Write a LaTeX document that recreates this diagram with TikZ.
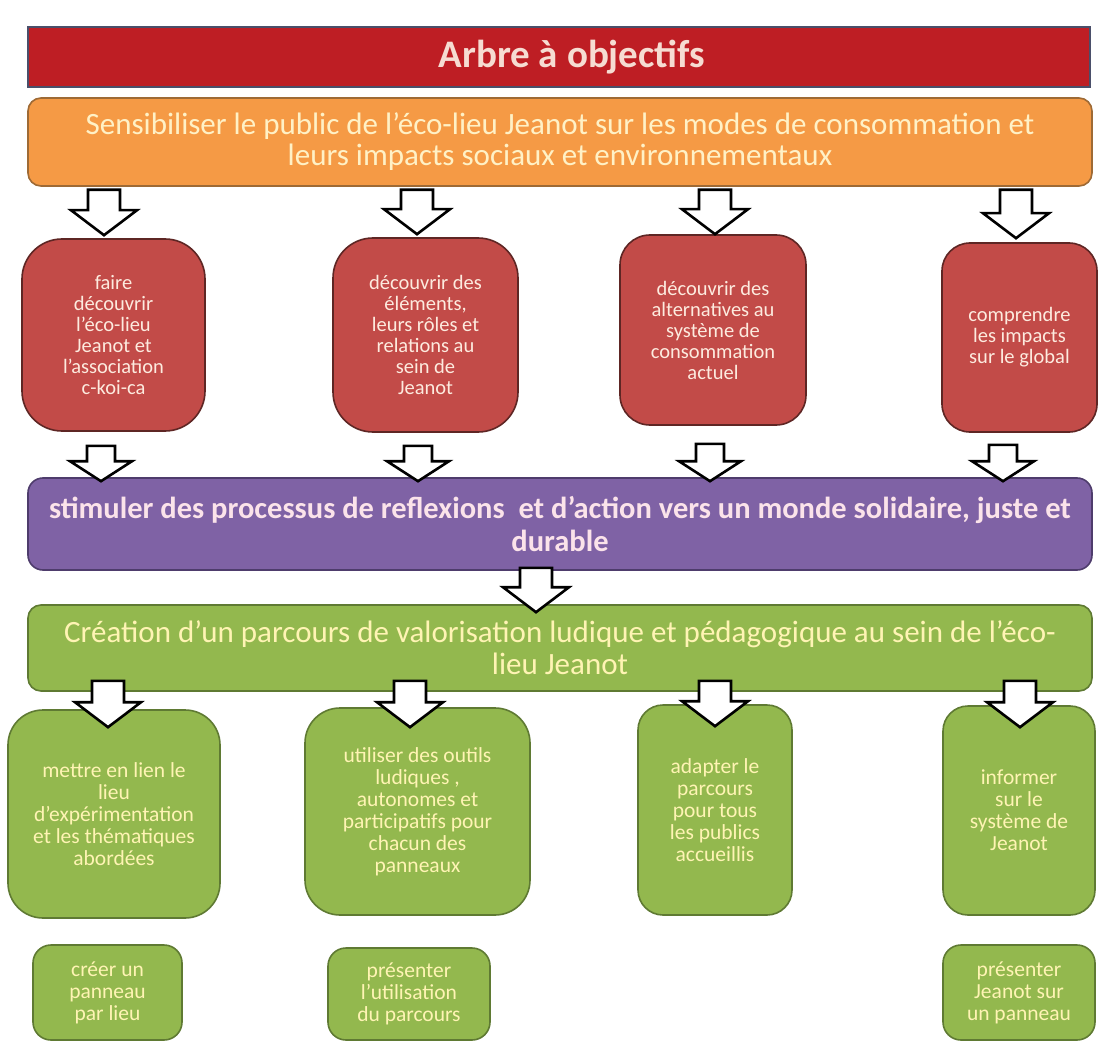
\documentclass[tikz,border=0pt]{standalone}
\usepackage{fontspec}
\setmainfont{Carlito}
\usetikzlibrary{calc}
\definecolor{titfill}{HTML}{BE1E24}
\definecolor{titdraw}{HTML}{4A4F6A}
\definecolor{tittext}{HTML}{F6DCD2}
\definecolor{orfill}{HTML}{F59A45}
\definecolor{ordraw}{HTML}{9E6A35}
\definecolor{ortext}{HTML}{FFF1C6}
\definecolor{rdfill}{HTML}{C24B48}
\definecolor{rddraw}{HTML}{5E2624}
\definecolor{rdtext}{HTML}{FDEBDF}
\definecolor{pufill}{HTML}{7F62A5}
\definecolor{pudraw}{HTML}{4E3C6C}
\definecolor{putext}{HTML}{FBE3EA}
\definecolor{grfill}{HTML}{93B84E}
\definecolor{grdraw}{HTML}{5F7A33}
\definecolor{grtext}{HTML}{FFF4B4}
\newcommand\blockarr[5]{%
  \draw[barrow] let \p1=(#1), \p2=(#2) in
    (\x1-#3pt,\y1) -- (\x1+#3pt,\y1) -- (\x1+#3pt,\y2+#5pt) -- (\x1+#4pt,\y2+#5pt)
    -- (\x1,\y2) -- (\x1-#4pt,\y2+#5pt) -- (\x1-#3pt,\y2+#5pt) -- cycle;}
\begin{document}
\begin{tikzpicture}[x=1pt,y=-1pt,
  box/.style={inner sep=0pt, align=center, line width=1.6pt},
  titlebox/.style={box, fill=titfill, draw=titdraw, text=tittext, font=\fontsize{39}{44}\selectfont\bfseries},
  orbox/.style={box, fill=orfill, draw=ordraw, text=ortext, rounded corners=13pt, font=\fontsize{31}{31}\selectfont},
  rdbox/.style={box, fill=rdfill, draw=rddraw, text=rdtext, font=\fontsize{20.5}{21}\selectfont},
  pubox/.style={box, fill=pufill, draw=pudraw, text=putext, rounded corners=15pt, font=\fontsize{30.5}{33}\selectfont\bfseries},
  grbox/.style={box, fill=grfill, draw=grdraw, text=grtext, rounded corners=13pt, font=\fontsize{31}{32}\selectfont},
  gsbox/.style={box, fill=grfill, draw=grdraw, text=grtext, font=\fontsize{21.5}{22}\selectfont},
  barrow/.style={fill=white, draw=black, line width=2.6pt, line join=miter}]
\useasboundingbox[fill=white] (0,0) rectangle (1098,1043);

% title
\node[titlebox, minimum width=1062pt, minimum height=60pt] (tit) at (559,57) {\hspace*{26pt}Arbre à objectifs};

% orange goal
\node[orbox, minimum width=1064pt, minimum height=88pt] (org) at (560,142)
  {Sensibiliser le public de l'éco-lieu Jeanot sur les modes de consommation et\\leurs impacts sociaux et environnementaux};

% red boxes
\node[rdbox, rounded corners=40pt, minimum width=183pt, minimum height=192pt] (r1) at (113.5,335)
  {faire\\découvrir\\l'éco-lieu\\Jeanot et\\l'association\\c-koi-ca};
\node[rdbox, rounded corners=40pt, minimum width=185pt, minimum height=194pt] (r2) at (425.5,335)
  {découvrir des\\éléments,\\leurs rôles et\\relations au\\sein de\\Jeanot};
\node[rdbox, rounded corners=30pt, minimum width=186pt, minimum height=190pt] (r3) at (713,330)
  {découvrir des\\alternatives au\\système de\\consommation\\actuel};
\node[rdbox, rounded corners=28pt, minimum width=155pt, minimum height=189pt] (r4) at (1019.5,337.5)
  {comprendre\\les impacts\\sur le global};

% purple
\node[pubox, minimum width=1064pt, minimum height=92pt] (pur) at (560,524)
  {stimuler des processus de reflexions \ et d'action vers un monde solidaire, juste et\\durable};

% green main
\node[grbox, minimum width=1064pt, minimum height=86pt] (grn) at (560,648)
  {Création d'un parcours de valorisation ludique et pédagogique au sein de l'éco-\\lieu Jeanot};

% green boxes
\node[gsbox, rounded corners=35pt, minimum width=212pt, minimum height=208pt] (g1) at (114,814)
  {mettre en lien le\\lieu\\d'expérimentation\\et les thématiques\\abordées};
\node[gsbox, rounded corners=35pt, minimum width=225pt, minimum height=207pt] (g2) at (417.5,811.5)
  {utiliser des outils\\ludiques ,\\autonomes et\\participatifs pour\\chacun des\\panneaux};
\node[gsbox, rounded corners=25pt, minimum width=154pt, minimum height=210pt] (g3) at (715,810)
  {adapter le\\parcours\\pour tous\\les publics\\accueillis};
\node[gsbox, rounded corners=25pt, minimum width=152pt, minimum height=209pt] (g4) at (1019,810.5)
  {informer\\sur le\\système de\\Jeanot};

% small green boxes
\node[gsbox, rounded corners=18pt, minimum width=149pt, minimum height=95pt] (s1) at (107.5,992.5)
  {créer un\\panneau\\par lieu};
\node[gsbox, rounded corners=18pt, minimum width=162pt, minimum height=92pt] (s2) at (409,994)
  {présenter\\l'utilisation\\du parcours};
\node[gsbox, rounded corners=18pt, minimum width=152pt, minimum height=95pt] (s4) at (1019,992.5)
  {présenter\\Jeanot sur\\un panneau};

% arrows: orange -> red
\blockarr{$(104,0 |- org.south)+(0,3)$}{$(104,0 |- r1.north)+(0,-3)$}{16}{33}{25}
\blockarr{$(417,0 |- org.south)+(0,3)$}{$(417,0 |- r2.north)+(0,-3)$}{16}{33}{25}
\blockarr{$(715,0 |- org.south)+(0,3)$}{$(715,0 |- r3.north)+(0,0)$}{16}{33}{25}
\blockarr{$(1016,0 |- org.south)+(0,3)$}{$(1016,0 |- r4.north)+(0,-4)$}{16}{33}{25}

% arrows: red -> purple
\blockarr{$(101,0 |- r1.south)+(0,14)$}{$(101,0 |- pur.north)+(0,4)$}{14}{31}{20}
\blockarr{$(418,0 |- r2.south)+(0,13)$}{$(418,0 |- pur.north)+(0,4)$}{14}{31}{20}
\blockarr{$(710,0 |- r3.south)+(0,18)$}{$(710,0 |- pur.north)+(0,4)$}{14}{31}{20}
\blockarr{$(1003,0 |- r4.south)+(0,12)$}{$(1003,0 |- pur.north)+(0,4)$}{14}{31}{20}

% arrow: purple -> green
\blockarr{$(536,0 |- pur.south)+(0,-3)$}{$(536,0 |- grn.north)+(0,8)$}{16}{33}{25}

% arrows: green -> green boxes
\blockarr{$(108,0 |- grn.south)+(0,-11)$}{$(108,0 |- g1.north)+(0,18)$}{16}{33}{25}
\blockarr{$(410,0 |- grn.south)+(0,-11)$}{$(410,0 |- g2.north)+(0,20)$}{16}{33}{25}
\blockarr{$(715,0 |- grn.south)+(0,-11)$}{$(715,0 |- g3.north)+(0,22)$}{16}{33}{25}
\blockarr{$(1020,0 |- grn.south)+(0,-11)$}{$(1020,0 |- g4.north)+(0,22)$}{16}{33}{25}
\end{tikzpicture}
\end{document}
